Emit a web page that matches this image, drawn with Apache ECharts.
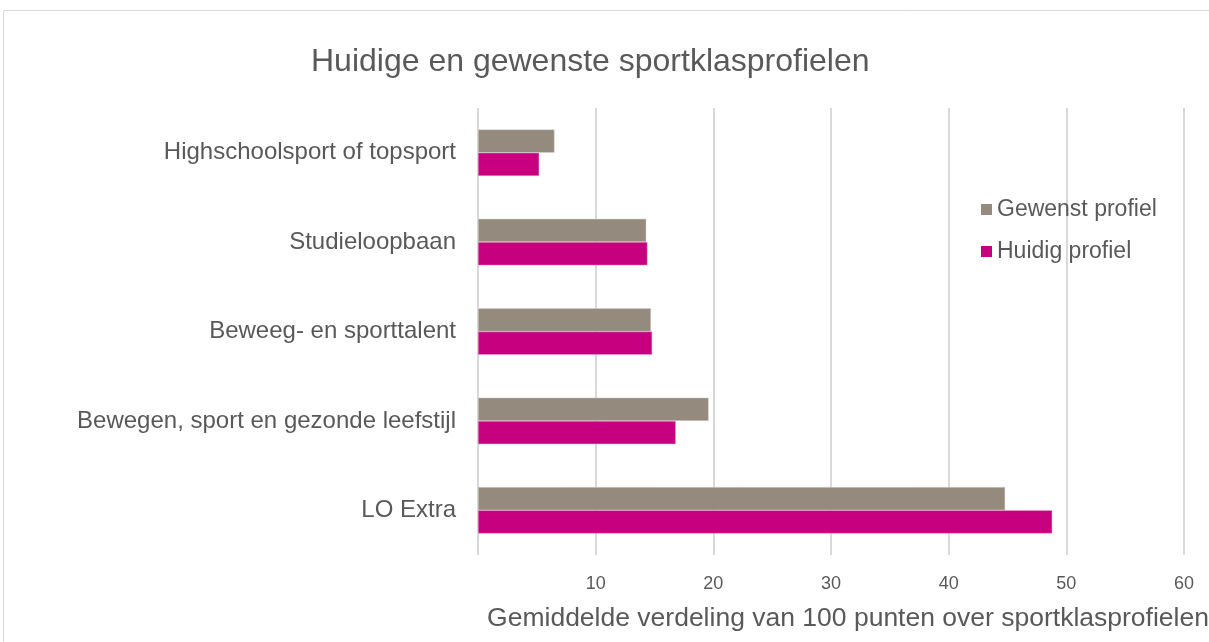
<!DOCTYPE html>
<html>
<head>
<meta charset="utf-8">
<script src="https://cdn.jsdelivr.net/npm/echarts@6/dist/echarts.min.js"></script>
<style>
    html, body { margin: 0; padding: 0; background: #fff; overflow: hidden; }
    #chart { width: 1209px; height: 642px; }
</style>
</head>
<body>
<div id="chart"></div>
<script>
// categorieen van onder naar boven
const categories = [
    'LO Extra',
    'Bewegen, sport en gezonde leefstijl',
    'Beweeg- en sporttalent',
    'Studieloopbaan',
    'Highschoolsport of topsport'
]
const gewenst = [44.8, 19.6, 14.7, 14.3, 6.5]
const huidig = [48.8, 16.8, 14.8, 14.4, 5.2]
const seriesNames = ['Gewenst profiel', 'Huidig profiel']

const textColor = '#595959'
const font = '"Liberation Sans", Arial, sans-serif'

const chart = echarts.init(document.getElementById('chart'))
const option = {
    animation: false,
    textStyle: { fontFamily: font },
    title: {
        text: 'Huidige en gewenste sportklasprofielen',
        left: 306,
        top: 41,
        textStyle: { fontSize: 32, fontWeight: 'normal', color: textColor, fontFamily: font }
    },
    // rand om de grafiek
    graphic: [{
        type: 'rect',
        shape: { x: 3.5, y: 10.5, width: 1300, height: 700 },
        style: { fill: 'none', stroke: '#d9d9d9', lineWidth: 1 },
        silent: true
    }],
    legend: {
        orient: 'vertical',
        left: 976,
        top: 193,
        itemWidth: 11,
        itemHeight: 11,
        itemGap: 19,
        icon: 'rect',
        data: seriesNames,
        itemStyle: { borderWidth: 0 },
        textStyle: { fontSize: 23, color: textColor }
    },
    grid: {
        left: 478,
        right: 25,
        top: 108,
        bottom: 87,
        containLabel: false,
        outerBoundsMode: 'none'
    },
    xAxis: {
        type: 'value',
        min: 0,
        max: 60,
        interval: 10,
        name: 'Gemiddelde verdeling van 100 punten over sportklasprofielen',
        nameLocation: 'middle',
        nameGap: 50,
        nameTextStyle: { fontSize: 26.5, color: textColor, padding: [0, 0, 0, 34] },
        axisLine: { show: false },
        axisTick: { show: false },
        axisLabel: {
            fontSize: 18,
            color: textColor,
            margin: 20,
            showMinLabel: false
        },
        splitLine: { lineStyle: { color: '#d9d9d9', width: 2 } }
    },
    yAxis: {
        type: 'category',
        data: categories,
        axisLine: { show: false },
        axisTick: { show: false },
        axisLabel: { fontSize: 24, color: textColor, margin: 22 }
    },
    series: [
        {
            name: seriesNames[0],
            type: 'bar',
            data: gewenst,
            barGap: '0%',
            barCategoryGap: '48%',
            itemStyle: { color: '#948a7e', borderColor: '#d6d2cc', borderWidth: 0.5 }
        },
        {
            name: seriesNames[1],
            type: 'bar',
            data: huidig,
            barGap: '0%',
            barCategoryGap: '48%',
            itemStyle: { color: '#c6007e', borderColor: '#e8a0cc', borderWidth: 0.5 }
        }
    ]
}
chart.setOption(option)
</script>
</body>
</html>
